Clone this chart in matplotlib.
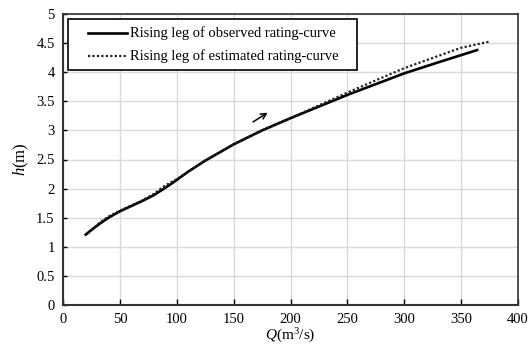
import matplotlib
matplotlib.use("Agg")
import matplotlib.pyplot as plt
from matplotlib.patches import Rectangle
from matplotlib.lines import Line2D

plt.rcParams['font.family'] = ['Liberation Serif', 'DejaVu Serif']
plt.rcParams['mathtext.fontset'] = 'custom'
plt.rcParams['mathtext.rm'] = 'Liberation Serif'
plt.rcParams['mathtext.it'] = 'Liberation Serif:italic'

Q_obs = [20, 25, 32.5, 40, 50, 60, 70, 80, 88, 95, 100, 110, 125, 150, 175, 200, 250, 300, 330, 364]
h_obs = [1.21, 1.29, 1.40, 1.50, 1.61, 1.70, 1.79, 1.89, 1.99, 2.08, 2.15, 2.29, 2.48, 2.76, 3.00, 3.21, 3.61, 3.98, 4.17, 4.38]

Q_est = [22, 32.5, 40, 50, 60, 70, 80, 88, 95, 100, 110, 125, 150, 175, 200, 250, 300, 350, 376]
h_est = [1.23, 1.42, 1.52, 1.62, 1.71, 1.80, 1.91, 2.03, 2.11, 2.16, 2.29, 2.48, 2.76, 3.00, 3.21, 3.65, 4.07, 4.42, 4.53]

legend_labels = ['Rising leg of observed rating-curve', 'Rising leg of estimated rating-curve']

x_ticks = [0, 50, 100, 150, 200, 250, 300, 350, 400]
y_ticks = [0, 0.5, 1, 1.5, 2, 2.5, 3, 3.5, 4, 4.5, 5]
y_labels = ['0', '0.5', '1', '1.5', '2', '2.5', '3', '3.5', '4', '4.5', '5']

W, H = 529, 345
fig = plt.figure(figsize=(W / 100, H / 100), dpi=100)
ax = fig.add_axes([63 / W, 1 - 305 / H, 455 / W, 291 / H])

obs_style = dict(color='black', lw=1.9)
est_style = dict(color='#222222', lw=1.6, linestyle=(0, (1, 1)))

ax.plot(Q_obs, h_obs, zorder=3, **obs_style)
ax.plot(Q_est, h_est, zorder=4, **est_style)

ax.annotate('', xy=(182, 3.33), xytext=(165, 3.12),
            arrowprops=dict(arrowstyle='->', color='black', lw=1.1))

ax.set_xlim(0, 400)
ax.set_ylim(0, 5)
ax.set_xticks(x_ticks)
ax.set_yticks(y_ticks)
ax.set_yticklabels(y_labels)
ax.grid(True, color='#d9d9d9', lw=1.0, zorder=0)
ax.set_axisbelow(True)
ax.tick_params(direction='in', length=4, width=1.0, labelsize=10.5, colors='black', pad=6)
ax.tick_params(axis='y', length=3)

for s in ['left', 'bottom']:
    ax.spines[s].set_linewidth(1.5)
    ax.spines[s].set_color('#333333')
for s in ['top', 'right']:
    ax.spines[s].set_linewidth(1.2)
    ax.spines[s].set_color('#333333')

ax.set_xlabel(r'$\mathit{Q}$(m$^{3}$/s)', fontsize=11, labelpad=0)
ax.set_ylabel(r'$\mathit{h}$(m)', fontsize=12, labelpad=4)

# manual legend (pixel layout)
def fx(x):
    return x / W

def fy(y):
    return 1 - y / H

fig.add_artist(Rectangle((fx(68), fy(70)), fx(357) - fx(68), fy(19) - fy(70),
                         transform=fig.transFigure, facecolor='white',
                         edgecolor='black', lw=1.2, zorder=10))
rows = [33, 56]
styles = [obs_style, est_style]
for label, st, ry in zip(legend_labels, styles, rows):
    fig.add_artist(Line2D([fx(88), fx(127)], [fy(ry), fy(ry)],
                          transform=fig.transFigure, zorder=11, **st))
    fig.text(fx(130), fy(ry), label, fontsize=10.5, va='center', ha='left', zorder=12)

fig.savefig('out.png', dpi=100)
